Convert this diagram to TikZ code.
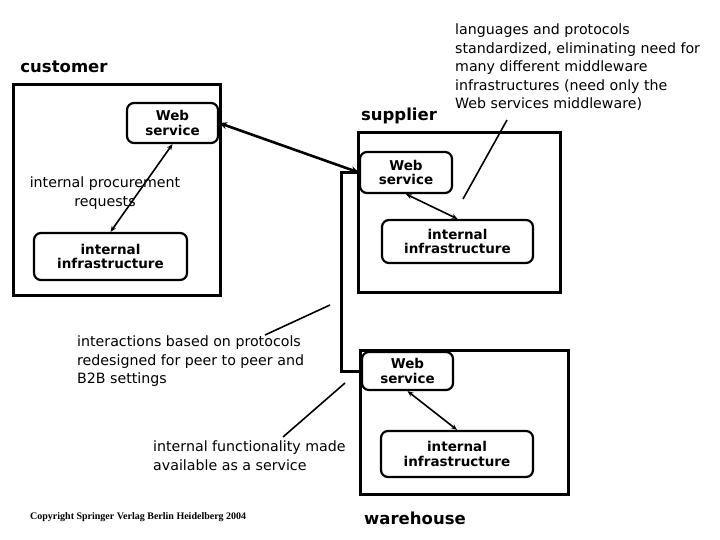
\documentclass[tikz,border=0pt]{standalone}
\usepackage{fontspec}
\setmainfont{DejaVu Sans}
\newfontfamily\copyfont{Liberation Serif}
\usetikzlibrary{arrows.meta}
\tikzset{
  outerbox/.style={draw, line width=3pt, inner sep=0pt},
  innerbox/.style={draw, line width=2.2pt, rounded corners=7pt, inner sep=0pt, align=center, font=\fontsize{13.5}{14.5}\selectfont\bfseries},
  biglabel/.style={font=\fontsize{16.5}{18}\selectfont\bfseries, inner sep=0pt},
  note/.style={font=\fontsize{14.2}{18.5}\selectfont, inner sep=0pt, align=left, anchor=north west},
  thickarrow/.style={line width=2.6pt, {Stealth[length=8pt,width=7pt]}-{Stealth[length=8pt,width=7pt]}},
  thinarrow/.style={line width=1.6pt, {Stealth[length=6pt,width=5pt]}-{Stealth[length=6pt,width=5pt]}},
  pointer/.style={line width=1.6pt},
  link/.style={line width=3pt}
}
\begin{document}
\begin{tikzpicture}[x=1pt,y=-1pt]
\useasboundingbox (0,0) rectangle (720,540);
% boxes
\node[outerbox, minimum width=207pt, minimum height=210pt] (cust) at (116.5,190) {};
\node[outerbox, minimum width=202pt, minimum height=159pt] (sup) at (459,212.5) {};
\node[outerbox, minimum width=208pt, minimum height=144pt] (wh) at (464,422) {};
% inner nodes
\node[innerbox, minimum width=91pt, minimum height=40pt] (cws) at (172.5,123) {Web\\service};
\node[innerbox, minimum width=153pt, minimum height=47pt] (cii) at (110.5,256.5) {internal\\infrastructure};
\node[innerbox, minimum width=92pt, minimum height=41pt] (sws) at (406,172.5) {Web\\service};
\node[innerbox, minimum width=151pt, minimum height=43pt] (sii) at (457.5,241.5) {internal\\infrastructure};
\node[innerbox, minimum width=91pt, minimum height=38pt] (wws) at (407.5,371) {Web\\service};
\node[innerbox, minimum width=152pt, minimum height=46pt] (wii) at (457,454) {internal\\infrastructure};
% labels
\node[biglabel] (lcust) at (64,67) {customer};
\node[biglabel] (lsup) at (399,116) {supplier};
\node[biglabel] (lwh) at (415,518) {warehouse};
\node[font=\fontsize{14.2}{18.5}\selectfont, inner sep=0pt, align=center] (proc) at (105,193) {internal procurement\\requests};
\node[note] (n1) at (455,24) {languages and protocols\\standardized, eliminating need for\\many different middleware\\infrastructures (need only the\\Web services middleware)};
\node[note] (n2) at (77,336) {interactions based on protocols\\redesigned for peer to peer and\\B2B settings};
\node[note] (n3) at (153,441) {internal functionality made\\available as a service};
\node[font=\copyfont\fontsize{10}{11}\selectfont\bfseries, inner sep=0pt, anchor=west] (copy) at (30,517) {Copyright Springer Verlag Berlin Heidelberg 2004};
% connectors
\draw[thickarrow] (cws.east) -- (sws.west);
\draw[link] (sws.west) -- ++(-17,0) |- (wws.west);
\draw[thinarrow] (cws.south) -- (cii.north);
\draw[thinarrow] (sws.south) -- (sii.north);
\draw[thinarrow] (wws.south) -- (wii.north);
% pointers
\coordinate (p1a) at (507,120);
\coordinate (p1b) at (463,199);
\coordinate (p2a) at (330,305);
\coordinate (p2b) at (265,335);
\coordinate (p3a) at (345,383);
\coordinate (p3b) at (283,437);
\draw[pointer] (p1a) -- (p1b);
\draw[pointer] (p2a) -- (p2b);
\draw[pointer] (p3a) -- (p3b);
\end{tikzpicture}
\end{document}
